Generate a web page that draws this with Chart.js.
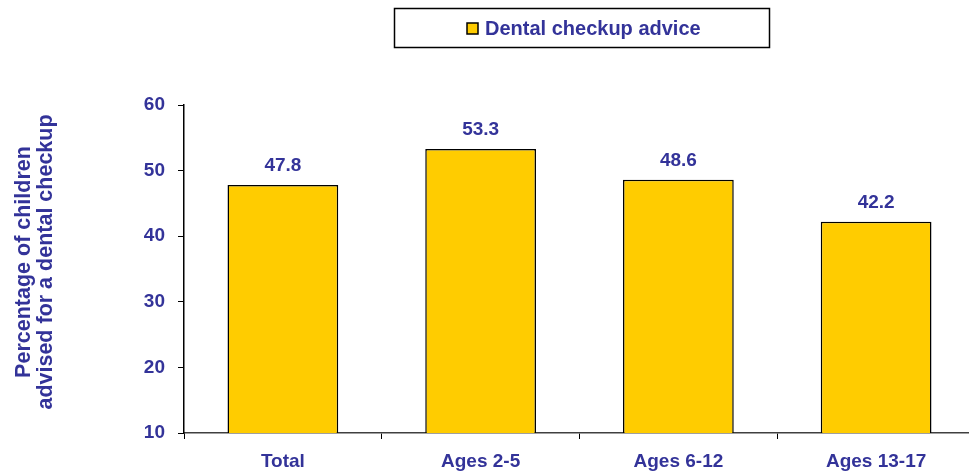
<!DOCTYPE html>
<html>
<head>
<meta charset="utf-8">
<script src="https://cdn.jsdelivr.net/npm/chart.js@4/dist/chart.umd.min.js"></script>
<style>
html,body{margin:0;padding:0;background:#fff;overflow:hidden;}
#wrap{width:969px;height:474px;position:relative;overflow:hidden;}
</style>
</head>
<body>
<div id="wrap"><canvas id="c" width="975" height="474"></canvas></div>
<script>
const categories = ["Total", "Ages 2-5", "Ages 6-12", "Ages 13-17"];
const seriesName = "Dental checkup advice";
const values = [47.8, 53.3, 48.6, 42.2];
const yTicks = [10, 20, 30, 40, 50, 60];
const yTitle = ["Percentage of children", "advised for a dental checkup"];

const TXT = "#333399";
const FONT = "Liberation Sans, Arial, sans-serif";

const extras = {
  id: "extras",
  afterDatasetsDraw(chart) {
    const ctx = chart.ctx;
    ctx.save();
    // value labels
    ctx.fillStyle = TXT;
    ctx.font = "bold 19px " + FONT;
    ctx.textAlign = "center";
    ctx.textBaseline = "bottom";
    chart.getDatasetMeta(0).data.forEach((bar, i) => {
      ctx.fillText(values[i].toFixed(1), bar.x, bar.y - 10);
    });
    // legend box
    ctx.strokeStyle = "#000";
    ctx.lineWidth = 1.5;
    ctx.strokeRect(394.5, 8.5, 375, 39);
    ctx.fillStyle = "#FFCC00";
    ctx.fillRect(467, 23, 11, 11);
    ctx.lineWidth = 1.5;
    ctx.strokeRect(467, 23, 11, 11);
    ctx.fillStyle = TXT;
    ctx.font = "bold 20px " + FONT;
    ctx.textAlign = "left";
    ctx.textBaseline = "middle";
    ctx.fillText(seriesName, 485, 29);
    // y axis title
    ctx.font = "bold 21.5px " + FONT;
    ctx.textAlign = "center";
    ctx.textBaseline = "middle";
    const cy = 262;
    [[24, yTitle[0]], [46, yTitle[1]]].forEach(([x, t]) => {
      ctx.save();
      ctx.translate(x, cy);
      ctx.rotate(-Math.PI / 2);
      ctx.fillText(t, 0, 0);
      ctx.restore();
    });
    ctx.restore();
  }
};

new Chart(document.getElementById("c"), {
  type: "bar",
  data: {
    labels: categories,
    datasets: [{
      label: seriesName,
      data: values,
      backgroundColor: "#FFCC00",
      borderColor: "#000000",
      borderWidth: 1.5,
      barPercentage: 0.56,
      categoryPercentage: 1.0
    }]
  },
  options: {
    responsive: false,
    animation: false,
    events: [],
    layout: { padding: { top: 105, right: 0, left: 0, bottom: 0 } },
    plugins: { legend: { display: false }, tooltip: { enabled: false } },
    scales: {
      x: {
        afterFit(s) { s.height = 41; },
        grid: { display: true, drawOnChartArea: false, drawTicks: true, tickLength: 6, color: "#000", offset: true },
        border: { display: true, color: "#404040", width: 1.5 },
        ticks: { color: TXT, font: { family: FONT, size: 19, weight: "bold" }, padding: 11 }
      },
      y: {
        min: 10, max: 60,
        afterFit(s) { s.width = 184; },
        afterBuildTicks(s) { s.ticks = yTicks.map(v => ({ value: v })); },
        grid: { display: true, drawOnChartArea: false, drawTicks: true, tickLength: 6, color: "#000" },
        border: { display: true, color: "#000", width: 1.5 },
        ticks: { color: TXT, font: { family: FONT, size: 19, weight: "bold" }, padding: 13 }
      }
    }
  },
  plugins: [extras]
});
</script>
</body>
</html>
